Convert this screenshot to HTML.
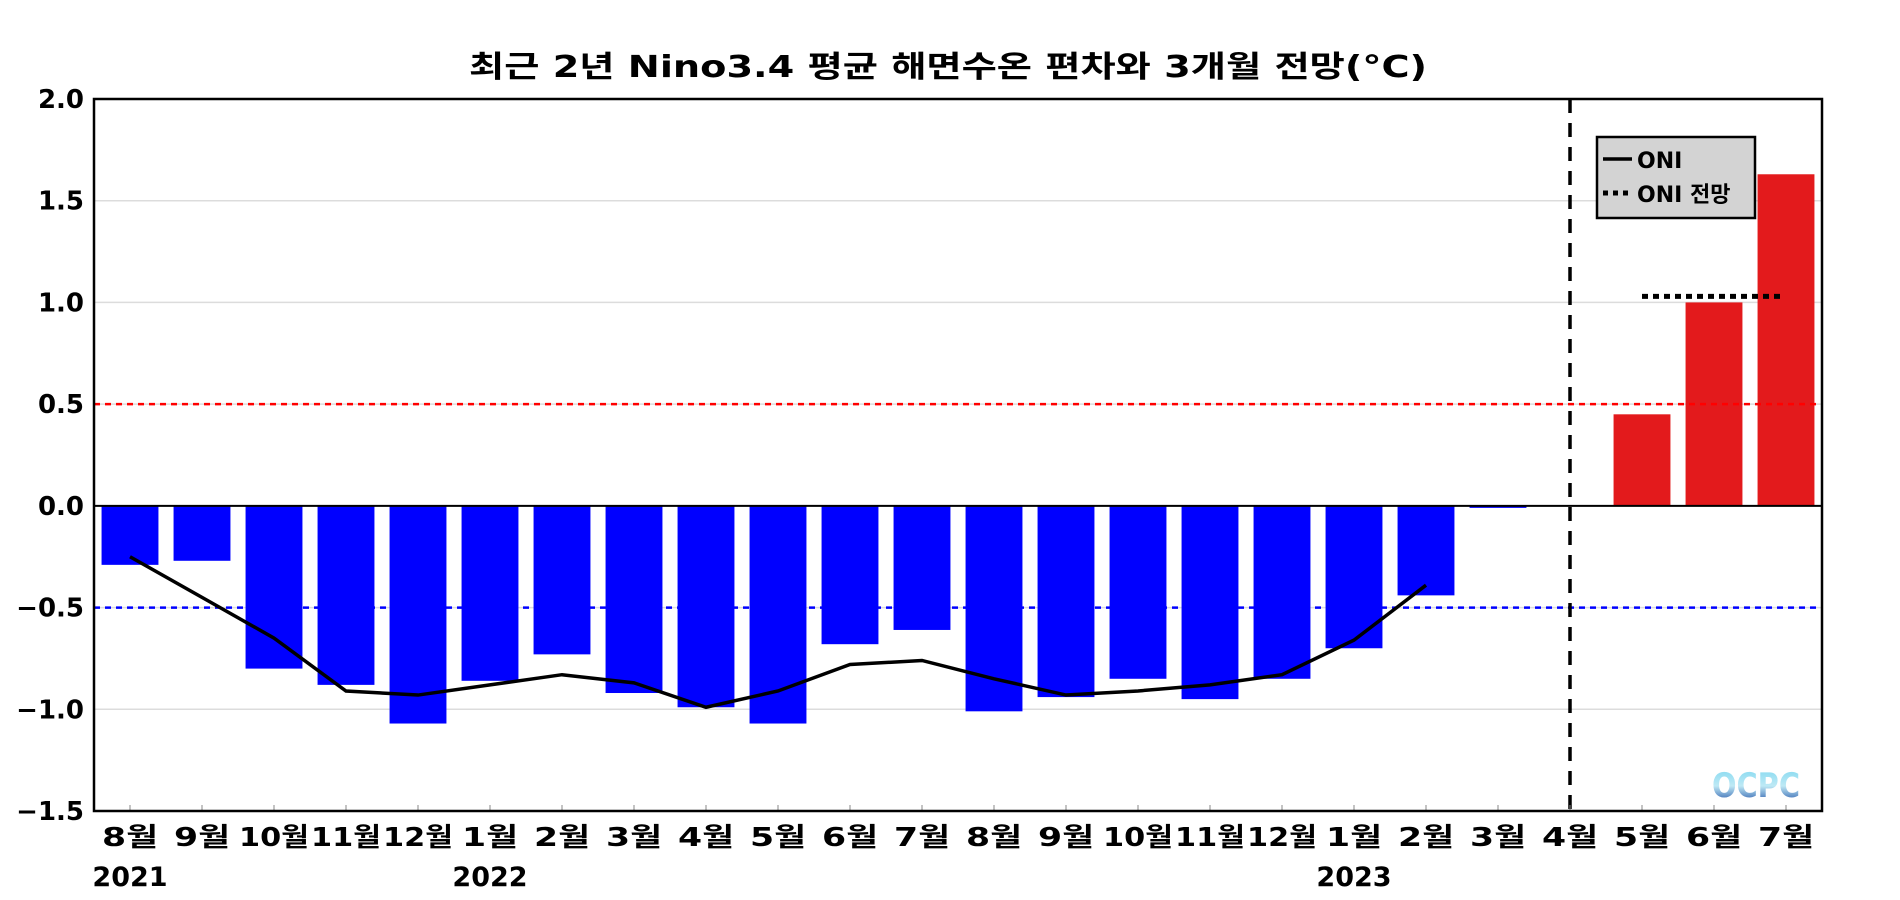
<!DOCTYPE html>
<html><head><meta charset="utf-8"><style>
html,body{margin:0;padding:0;background:#fff;}
svg{display:block;font-family:"DejaVu Sans","Noto Sans CJK KR",sans-serif;font-weight:bold;}
</style></head><body>
<svg id="chart" width="1900" height="900" viewBox="0 0 1900 900">
<text x="948" y="77" text-anchor="middle" font-size="30" textLength="958" lengthAdjust="spacingAndGlyphs">최근 2년 Nino3.4 평균 해면수온 편차와 3개월 전망(°C)</text>
<g id="grid"></g><g id="bars"></g><g id="lines"></g><g id="axes"></g>
</svg>
<script>
const months=['8월','9월','10월','11월','12월','1월','2월','3월','4월','5월','6월','7월','8월','9월','10월','11월','12월','1월','2월','3월','4월','5월','6월','7월'];
const yearLabels=['2021','2022','2023'];
const yearIdx=[0,5,17];
const anomaly=[-0.29,-0.27,-0.80,-0.88,-1.07,-0.86,-0.73,-0.92,-0.99,-1.07,-0.68,-0.61,-1.01,-0.94,-0.85,-0.95,-0.85,-0.70,-0.44,-0.01,null,0.45,1.00,1.63];
const oni=[-0.25,-0.45,-0.65,-0.91,-0.93,-0.88,-0.83,-0.87,-0.99,-0.91,-0.78,-0.76,-0.85,-0.93,-0.91,-0.88,-0.83,-0.66,-0.39];
const oniForecast=[1.03];
const forecastStart=21, forecastEnd=23;
const yTicks=[2.0,1.5,1.0,0.5,0.0,-0.5,-1.0,-1.5];
const L=94,R=1822,T=99,B=811,yMin=-1.5,yMax=2.0;
const slot=(R-L)/months.length;
const X=i=>L+(i+0.5)*slot;
const Y=v=>B-(v-yMin)/(yMax-yMin)*(B-T);
const NS='http://www.w3.org/2000/svg';
function mk(tag,attrs,parent,text){const e=document.createElementNS(NS,tag);for(const k in attrs)e.setAttribute(k,attrs[k]);if(text!==undefined)e.textContent=text;document.getElementById(parent).appendChild(e);return e;}
yTicks.forEach(v=>{
 if(v!==0&&v!==2&&v!==-1.5){const g=mk('line',{x1:L,x2:R,y1:Y(v),y2:Y(v),stroke:'#dcdcdc','stroke-width':1.5},'grid');
 
 }
 const t=mk('text',{x:84,y:Y(v)+9,'text-anchor':'end','font-size':26},'axes',v.toFixed(1).replace('-','−'));
 
 
});
anomaly.forEach((v,i)=>{
 if(v===null)return;
 const bw=slot*0.79;
 const r=mk('rect',{x:X(i)-bw/2,y:Math.min(Y(v),Y(0)),width:bw,height:Math.max(Math.abs(Y(v)-Y(0)),1.5),fill:v>=0?'#e31a1c':'#0000ff'},'bars');
 
 
});
let ref=mk('line',{x1:L,x2:R,y1:Y(0.5),y2:Y(0.5),stroke:'#ff0000','stroke-width':2.5,'stroke-dasharray':'6,5'},'lines');


ref=mk('line',{x1:L,x2:R,y1:Y(-0.5),y2:Y(-0.5),stroke:'#0000ff','stroke-width':2.5,'stroke-dasharray':'6,5'},'lines');


ref=mk('line',{x1:L,x2:R,y1:Y(0),y2:Y(0),stroke:'#000','stroke-width':2},'lines');


ref=mk('line',{x1:X(20),x2:X(20),y1:T,y2:B,stroke:'#000','stroke-width':3.5,'stroke-dasharray':'14,10'},'lines');


const pl=mk('polyline',{points:oni.map((v,i)=>X(i)+','+Y(v)).join(' '),fill:'none',stroke:'#000','stroke-width':3.5},'lines');


const fl=mk('line',{x1:X(forecastStart),x2:X(forecastEnd)-6,y1:Y(oniForecast[0]),y2:Y(oniForecast[0]),stroke:'#000','stroke-width':5,'stroke-dasharray':'6,5'},'lines');


months.forEach((m,i)=>{
 const tk=mk('line',{x1:X(i),x2:X(i),y1:B-6,y2:B,stroke:'#888','stroke-width':1},'axes');
 
 
 const t=mk('text',{x:X(i),y:846,'text-anchor':'middle','font-size':26,textLength:m.length>2?70:56,lengthAdjust:'spacingAndGlyphs'},'axes',m);
 
 
});
yearLabels.forEach((y,k)=>{
 const t=mk('text',{x:X(yearIdx[k]),y:886,'text-anchor':'middle','font-size':27},'axes',y);
 
 
});
const fr=mk('rect',{x:L,y:T,width:R-L,height:B-T,fill:'none',stroke:'#000','stroke-width':2.5},'axes');


</script>
<svg style="position:absolute;left:0;top:0" width="1900" height="900">
<g>
<rect x="1597" y="137" width="158" height="81" fill="#d3d3d3" stroke="#000" stroke-width="2.5"/>
<line x1="1603" y1="159" x2="1632" y2="159" stroke="#000" stroke-width="3.5"/>
<text x="1637" y="168" font-family="DejaVu Sans" font-weight="bold" font-size="22">ONI</text>
<line x1="1603" y1="193" x2="1632" y2="193" stroke="#000" stroke-width="5" stroke-dasharray="5,5"/>
<text x="1637" y="202" font-family="DejaVu Sans,Noto Sans CJK KR,sans-serif" font-weight="bold" font-size="22">ONI 전망</text>
</g>
<defs><linearGradient id="lg" x1="0" y1="0" x2="0" y2="1"><stop offset="0" stop-color="#7fd8f0"/><stop offset="0.5" stop-color="#bfe9f5"/><stop offset="1" stop-color="#0a3c9c"/></linearGradient></defs>
<text x="1756" y="797" text-anchor="middle" font-family="DejaVu Sans" font-weight="bold" font-size="34" fill="url(#lg)" textLength="88" lengthAdjust="spacingAndGlyphs">OCPC</text>
</svg>
</body></html>
